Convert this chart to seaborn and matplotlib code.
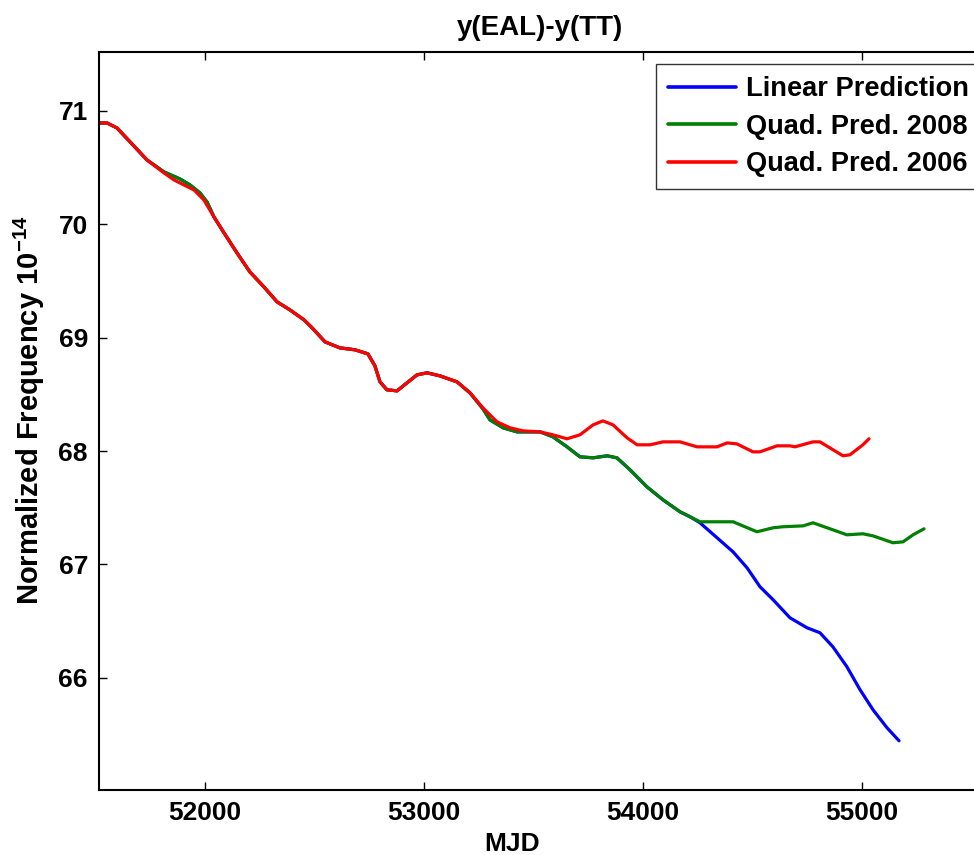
import matplotlib
matplotlib.use("Agg")
import matplotlib.pyplot as plt
import seaborn as sns
import pandas as pd

# ---- data ----
lin_mjd = [51516, 51553, 51598, 51658, 51735, 51813, 51886, 51932, 51977, 52009,
           52041, 52087, 52146, 52205, 52269, 52329, 52388, 52452, 52489, 52548,
           52616, 52685, 52744, 52776, 52799, 52831, 52877, 52922, 52968, 53014,
           53073, 53151, 53210, 53269, 53301, 53361, 53425, 53530, 53589, 53653,
           53712, 53772, 53836, 53881, 53941, 54018, 54091, 54169, 54215, 54260,
           54338, 54411, 54475, 54534, 54594, 54671, 54749, 54808, 54867, 54931,
           54991, 55050, 55114, 55169]
lin_val = [70.894, 70.894, 70.850, 70.727, 70.568, 70.462, 70.400, 70.347, 70.277, 70.198,
           70.065, 69.924, 69.748, 69.580, 69.448, 69.316, 69.245, 69.157, 69.087, 68.963,
           68.910, 68.893, 68.857, 68.751, 68.610, 68.540, 68.531, 68.601, 68.672, 68.690,
           68.663, 68.610, 68.513, 68.372, 68.275, 68.205, 68.169, 68.169, 68.125, 68.037,
           67.949, 67.940, 67.958, 67.940, 67.834, 67.684, 67.570, 67.464, 67.420, 67.367,
           67.235, 67.111, 66.970, 66.803, 66.688, 66.529, 66.441, 66.397, 66.273, 66.097,
           65.894, 65.718, 65.559, 65.444]

q08_mjd = [51516, 51553, 51598, 51658, 51735, 51813, 51886, 51932, 51977, 52009,
           52041, 52087, 52146, 52205, 52269, 52329, 52388, 52452, 52489, 52548,
           52616, 52685, 52744, 52776, 52799, 52831, 52877, 52922, 52968, 53014,
           53073, 53151, 53210, 53269, 53301, 53361, 53425, 53530, 53589, 53653,
           53712, 53772, 53836, 53881, 53941, 54018, 54091, 54169, 54215, 54260,
           54411, 54520, 54594, 54639, 54731, 54776, 54867, 54931, 55004, 55050,
           55141, 55187, 55233, 55283]
q08_val = [70.894, 70.894, 70.850, 70.727, 70.568, 70.462, 70.400, 70.347, 70.277, 70.198,
           70.065, 69.924, 69.748, 69.580, 69.448, 69.316, 69.245, 69.157, 69.087, 68.963,
           68.910, 68.893, 68.857, 68.751, 68.610, 68.540, 68.531, 68.601, 68.672, 68.690,
           68.663, 68.610, 68.513, 68.372, 68.275, 68.205, 68.169, 68.169, 68.125, 68.037,
           67.949, 67.940, 67.958, 67.940, 67.834, 67.684, 67.570, 67.464, 67.420, 67.376,
           67.376, 67.288, 67.323, 67.332, 67.340, 67.367, 67.305, 67.261, 67.270, 67.252,
           67.191, 67.199, 67.261, 67.314]

q06_mjd = [51516, 51553, 51598, 51658, 51735, 51813, 51858, 51904, 51950, 51995,
           52041, 52087, 52146, 52205, 52269, 52329, 52388, 52452, 52489, 52548,
           52616, 52685, 52744, 52776, 52799, 52831, 52877, 52922, 52968, 53014,
           53073, 53151, 53210, 53269, 53333, 53393, 53452, 53530, 53589, 53653,
           53712, 53772, 53817, 53863, 53927, 53973, 54032, 54091, 54169, 54247,
           54338, 54384, 54429, 54502, 54534, 54612, 54671, 54694, 54776, 54808,
           54913, 54945, 55004, 55032]
q06_val = [70.894, 70.894, 70.850, 70.727, 70.568, 70.453, 70.392, 70.347, 70.303, 70.215,
           70.065, 69.924, 69.748, 69.580, 69.448, 69.316, 69.245, 69.157, 69.087, 68.963,
           68.910, 68.893, 68.857, 68.751, 68.610, 68.540, 68.531, 68.601, 68.672, 68.690,
           68.663, 68.610, 68.513, 68.381, 68.258, 68.205, 68.178, 68.169, 68.143, 68.108,
           68.143, 68.231, 68.266, 68.231, 68.117, 68.055, 68.055, 68.081, 68.081, 68.037,
           68.037, 68.072, 68.063, 67.993, 67.993, 68.046, 68.046, 68.037, 68.081, 68.081,
           67.958, 67.967, 68.055, 68.108]

series_names = ["Linear Prediction", "Quad. Pred. 2008", "Quad. Pred. 2006"]
series_colors = ["#0000ff", "#008000", "#ff0000"]
x_ticks = [52000, 53000, 54000, 55000]
y_ticks = [66, 67, 68, 69, 70, 71]

df = pd.concat([
    pd.DataFrame({"MJD": lin_mjd, "val": lin_val, "series": series_names[0]}),
    pd.DataFrame({"MJD": q08_mjd, "val": q08_val, "series": series_names[1]}),
    pd.DataFrame({"MJD": q06_mjd, "val": q06_val, "series": series_names[2]}),
], ignore_index=True)

sns.set_style("white")
plt.rcParams["font.family"] = ["Liberation Sans", "DejaVu Sans"]
plt.rcParams["font.weight"] = "bold"
plt.rcParams["text.color"] = "black"
plt.rcParams["axes.labelcolor"] = "black"
plt.rcParams["xtick.color"] = "black"
plt.rcParams["ytick.color"] = "black"
plt.rcParams["mathtext.fontset"] = "custom"
plt.rcParams["mathtext.rm"] = "Liberation Sans:bold"
plt.rcParams["mathtext.bf"] = "Liberation Sans:bold"
plt.rcParams["mathtext.default"] = "bf"

W, H = 974, 855
fig = plt.figure(figsize=(W / 100, H / 100), dpi=100)
left_px, right_px, top_px, bot_px = 99, 981, 52, 790
ax = fig.add_axes([left_px / W, 1 - bot_px / H, (right_px - left_px) / W, (bot_px - top_px) / H])

sns.lineplot(data=df, x="MJD", y="val", hue="series", hue_order=series_names,
             palette=dict(zip(series_names, series_colors)), sort=False,
             estimator=None, linewidth=2.3, ax=ax, legend=True)

ax.set_xlim(51516, 51516 + (right_px - left_px) * 4.566)
ax.set_ylim(65.01, 71.52)
ax.set_xticks(x_ticks)
ax.set_yticks(y_ticks)
ax.set_xticklabels([str(t) for t in x_ticks], fontsize=19, fontweight="bold")
ax.set_yticklabels([str(t) for t in y_ticks], fontsize=19, fontweight="bold")
ax.tick_params(direction="in", length=6, width=1, color="black", pad=8,
               top=True, right=False, bottom=True, left=True)
for s in ax.spines.values():
    s.set_visible(True)
    s.set_color("black")
    s.set_linewidth(1.5)

pw = right_px - left_px
ph = bot_px - top_px
ax.set_title("y(EAL)-y(TT)", fontsize=20, fontweight="bold", pad=12)
ax.set_xlabel("MJD", fontsize=19, fontweight="bold")
ax.xaxis.set_label_coords((512 - left_px) / pw, -(832 - bot_px) / ph)
ax.set_ylabel("Normalized Frequency 10$^{-14}$", fontsize=21, fontweight="bold")
ax.yaxis.set_label_coords(-(left_px - 47) / pw, (bot_px - 410) / ph)

leg = ax.legend(loc="upper left", bbox_to_anchor=(656 / W, 1 - 64 / H),
                bbox_transform=fig.transFigure, fontsize=19.6, frameon=True,
                fancybox=False, handlelength=2.5, handletextpad=0.35,
                labelspacing=0.42, borderpad=0.45, borderaxespad=0)
leg.get_frame().set_edgecolor("black")
leg.get_frame().set_linewidth(1.0)
for t in leg.get_texts():
    t.set_fontweight("bold")
for l in leg.get_lines():
    l.set_linewidth(2.6)

fig.savefig("out.png", dpi=100)
